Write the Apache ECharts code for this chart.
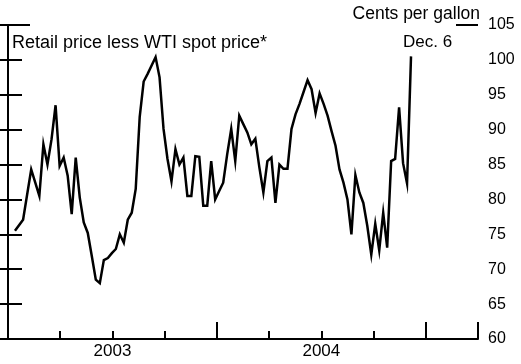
<!DOCTYPE html>
<html>
<head>
<meta charset="utf-8">
<script src="https://cdn.jsdelivr.net/npm/echarts@6/dist/echarts.min.js"></script>
<style>
  html, body { margin: 0; padding: 0; background: #fff; }
  #chart { width: 521px; height: 364px; }
</style>
</head>
<body>
<div id="chart"></div>
<script>
// Weekly retail gasoline price less WTI spot price, cents per gallon.
// First observation is the week of Jan. 13, 2003; last is Dec. 6, 2004.
const firstWeek = '2003-01-13';
const spreadCents = [
  75.5, 76.3, 77.1, 80.7, 84.3, 82.4, 80.5, 87.9, 85.0, 88.6,
  93.5, 84.8, 86.0, 83.4, 77.9, 86.0, 80.3, 76.7, 75.2, 71.9,
  68.5, 68.0, 71.3, 71.6, 72.3, 72.9, 75.0, 73.8, 77.1, 78.1,
  81.5, 91.8, 96.9, 98.0, 99.2, 100.4, 97.5, 90.1, 85.8, 82.6,
  87.2, 85.0, 86.0, 80.5, 80.5, 86.2, 86.1, 79.1, 79.1, 85.5,
  80.0, 81.2, 82.4, 86.5, 90.1, 85.5, 92.0, 90.8, 89.6, 87.9,
  88.7, 84.6, 81.0, 85.5, 86.0, 79.5, 85.0, 84.4, 84.4, 90.1,
  92.2, 93.7, 95.4, 97.1, 95.8, 92.4, 95.2, 93.7, 92.0, 89.8,
  87.7, 84.3, 82.4, 80.0, 75.0, 83.5, 81.0, 79.5, 76.2, 72.1,
  76.5, 72.7, 78.1, 73.1, 85.5, 85.8, 93.2, 85.2, 82.3, 100.5
];

// Axis labelling
const yearLabels = { 2: '2003', 6: '2004' };   // centred in each year (quarter units)
const yTicks = { min: 60, max: 105, step: 5 };
const axisStartYear = 2003;
const axisQuarters = 9;                         // Jan 2003 through Mar 2005

// Convert a date to a position measured in calendar quarters from Jan 1, 2003
function quarterPos(d) {
  const y = d.getUTCFullYear();
  const q = Math.floor(d.getUTCMonth() / 3);
  const qs = Date.UTC(y, q * 3, 1);
  const qe = Date.UTC(y, q * 3 + 3, 1);
  return (y - axisStartYear) * 4 + q + (d.getTime() - qs) / (qe - qs);
}

const start = new Date(firstWeek + 'T00:00:00Z');
const seriesData = spreadCents.map((v, i) => {
  const d = new Date(start.getTime() + i * 7 * 86400000);
  return [quarterPos(d), v];
});

const FONT = '"Liberation Sans", Arial, Helvetica, sans-serif';
const AX = { color: '#000', width: 2 };

const chart = echarts.init(document.getElementById('chart'), null, { renderer: 'canvas' });
chart.setOption({
  animation: false,
  backgroundColor: '#fff',
  grid: { left: 8, right: 43, top: 25, bottom: 25 },
  xAxis: [
    { // quarter ticks and baseline
      type: 'value', position: 'bottom', offset: 0, min: 0, max: axisQuarters, interval: 1,
      axisLine: { show: true, lineStyle: AX },
      axisTick: { show: true, inside: true, length: 8, lineStyle: AX },
      axisLabel: { show: false }, splitLine: { show: false }
    },
    { // year boundary ticks
      type: 'value', position: 'bottom', offset: 0, min: 0, max: axisQuarters, interval: 4,
      axisLine: { show: false },
      axisTick: { show: true, inside: true, length: 17, lineStyle: AX },
      axisLabel: { show: false }, splitLine: { show: false }
    },
    { // year labels
      type: 'value', position: 'bottom', offset: 0, min: 0, max: axisQuarters, interval: 2,
      axisLine: { show: false }, axisTick: { show: false }, splitLine: { show: false },
      axisLabel: {
        show: true, margin: 4, color: '#000', fontFamily: FONT, fontSize: 17,
        formatter: v => yearLabels[v] || ''
      }
    }
  ],
  yAxis: [
    {
      type: 'value', position: 'right', offset: 0, min: yTicks.min, max: yTicks.max, interval: yTicks.step,
      axisLine: { show: true, lineStyle: AX },
      axisTick: { show: true, inside: true, length: 14, lineStyle: AX },
      axisLabel: { show: true, margin: 10, color: '#000', fontFamily: FONT, fontSize: 16 },
      splitLine: { show: false }
    },
    {
      type: 'value', position: 'left', offset: 0, min: yTicks.min, max: yTicks.max, interval: yTicks.step,
      axisLine: { show: true, lineStyle: AX },
      axisTick: { show: true, inside: true, length: 14, lineStyle: AX },
      axisLabel: { show: false }, splitLine: { show: false }
    }
  ],
  series: [{
    type: 'line',
    xAxisIndex: 0, yAxisIndex: 0,
    data: seriesData,
    showSymbol: false,
    lineStyle: { color: '#000', width: 2.5, join: 'miter' },
    silent: true
  }]
});

// Longer cap ticks at the top of both vertical scales, placed through the axis scales
const capLen = 22;
const yTop = chart.convertToPixel({ yAxisIndex: 0 }, yTicks.max);
const xLeft = chart.convertToPixel({ xAxisIndex: 0 }, 0);
const xRight = chart.convertToPixel({ xAxisIndex: 0 }, axisQuarters);

chart.setOption({
  graphic: [
    { id: 'title', type: 'text', left: 12, top: 34,
      style: { text: 'Retail price less WTI spot price*', fill: '#000', font: '18px ' + FONT } },
    { id: 'unit', type: 'text', right: 41, top: 5,
      style: { text: 'Cents per gallon', fill: '#000', font: '17.5px ' + FONT } },
    { id: 'lastDate', type: 'text', left: 403, top: 34,
      style: { text: 'Dec. 6', fill: '#000', font: '17px ' + FONT } },
    { id: 'capLeft', type: 'line', z: 10,
      shape: { x1: xLeft, y1: yTop, x2: xLeft + capLen, y2: yTop },
      style: { stroke: '#000', lineWidth: 2 } },
    { id: 'capRight', type: 'line', z: 10,
      shape: { x1: xRight - capLen, y1: yTop, x2: xRight, y2: yTop },
      style: { stroke: '#000', lineWidth: 2 } }
  ]
});
</script>
</body>
</html>
